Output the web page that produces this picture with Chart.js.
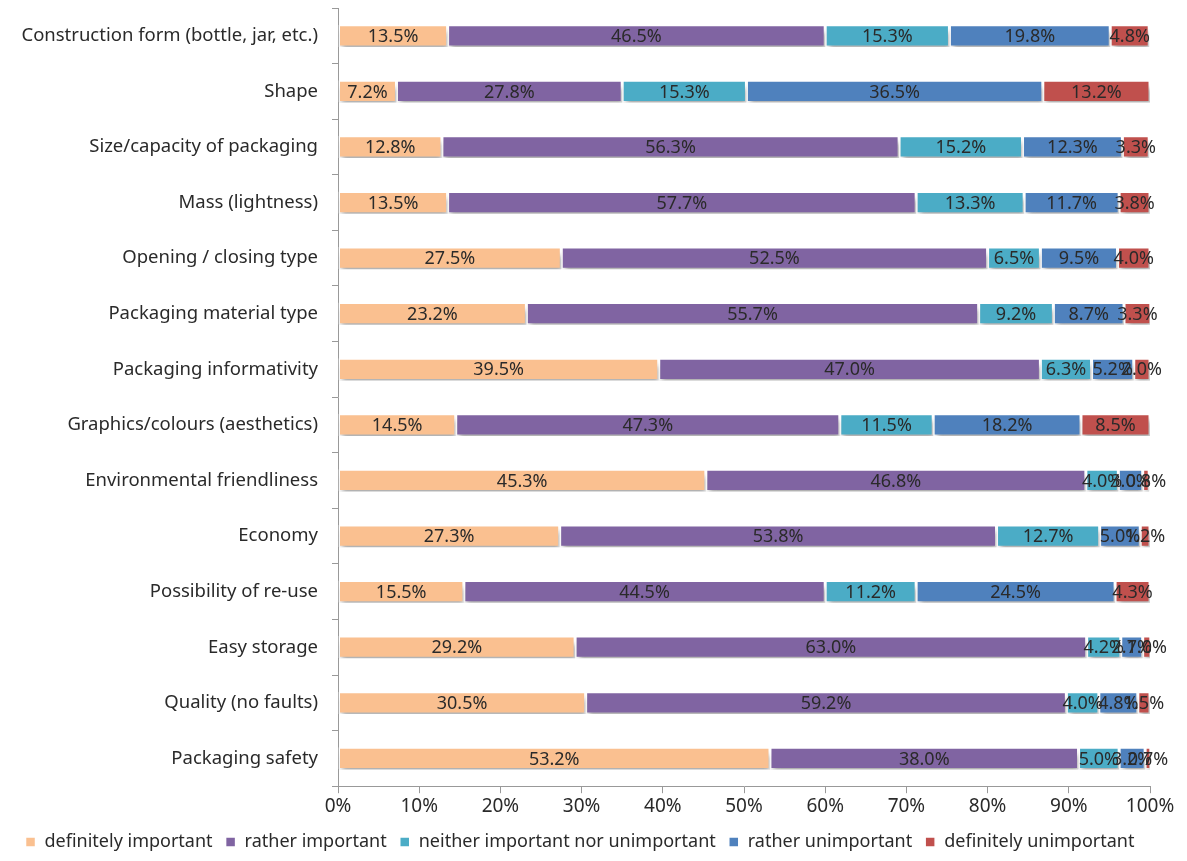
<!DOCTYPE html>
<html lang="en">
<head>
  <meta charset="UTF-8" />
  <title>Packaging attributes</title>
  <script src="https://cdn.jsdelivr.net/npm/chart.js"></script>
  <style>
    html, body { margin: 0; padding: 0; background: #fff; }
    #wrap { width: 1187px; height: 861px; position: relative; }
  </style>
</head>
<body>
  <div id="wrap"><canvas id="chart"></canvas></div>

  <script>
    const categories = [
      "Construction form (bottle, jar, etc.)",
      "Shape",
      "Size/capacity of packaging",
      "Mass (lightness)",
      "Opening / closing type",
      "Packaging material type",
      "Packaging informativity",
      "Graphics/colours (aesthetics)",
      "Environmental friendliness",
      "Economy",
      "Possibility of re-use",
      "Easy storage",
      "Quality (no faults)",
      "Packaging safety"
    ];

    const definitelyImportant   = [13.5, 7.2, 12.8, 13.5, 27.5, 23.2, 39.5, 14.5, 45.3, 27.3, 15.5, 29.2, 30.5, 53.2];
    const ratherImportant       = [46.5, 27.8, 56.3, 57.7, 52.5, 55.7, 47.0, 47.3, 46.8, 53.8, 44.5, 63.0, 59.2, 38.0];
    const neitherImportant      = [15.3, 15.3, 15.2, 13.3, 6.5, 9.2, 6.3, 11.5, 4.0, 12.7, 11.2, 4.2, 4.0, 5.0];
    const ratherUnimportant     = [19.8, 36.5, 12.3, 11.7, 9.5, 8.7, 5.2, 18.2, 3.0, 5.0, 24.5, 2.7, 4.8, 3.2];
    const definitelyUnimportant = [4.8, 13.2, 3.3, 3.8, 4.0, 3.3, 2.0, 8.5, 0.8, 1.2, 4.3, 1.0, 1.5, 0.7];

    const xTicks = [0, 10, 20, 30, 40, 50, 60, 70, 80, 90, 100];

    const FONT = "'Noto Sans', 'Open Sans', sans-serif";

    // draws the % value in the middle of each segment
    const segLabels = {
      id: "segLabels",
      afterDatasetsDraw(chart) {
        const ctx = chart.ctx;
        ctx.save();
        ctx.font = "18px " + FONT;
        ctx.fillStyle = "#2a2a2a";
        ctx.textAlign = "center";
        ctx.textBaseline = "middle";
        chart.data.datasets.forEach((ds, i) => {
          const meta = chart.getDatasetMeta(i);
          meta.data.forEach((bar, j) => {
            const x = (bar.x + bar.base) / 2;
            ctx.fillText(ds.data[j].toFixed(1) + "%", x, bar.y + 1);
          });
        });
        ctx.restore();
      }
    };

    // soft drop shadow under the bars
    const barShadow = {
      id: "barShadow",
      beforeDatasetsDraw(chart) {
        const ctx = chart.ctx;
        ctx.save();
        ctx.shadowColor = "rgba(0,0,0,0.3)";
        ctx.shadowBlur = 5;
        ctx.shadowOffsetX = 2;
        ctx.shadowOffsetY = 6;
      },
      afterDatasetsDraw(chart) {
        chart.ctx.restore();
      }
    };

    function ds(label, data, color) {
      return {
        label: label,
        data: data,
        backgroundColor: color,
        borderColor: "#ffffff",
        borderWidth: 1.5,
        borderSkipped: false,
        barPercentage: 0.8,
        categoryPercentage: 0.5
      };
    }

    new Chart(document.getElementById("chart"), {
      type: "bar",
      data: {
        labels: categories,
        datasets: [
          ds("definitely important", definitelyImportant, "#FAC090"),
          ds("rather important", ratherImportant, "#8064A2"),
          ds("neither important nor unimportant", neitherImportant, "#4BACC6"),
          ds("rather unimportant", ratherUnimportant, "#4F81BD"),
          ds("definitely unimportant", definitelyUnimportant, "#C0504D")
        ]
      },
      options: {
        indexAxis: "y",
        responsive: true,
        maintainAspectRatio: false,
        animation: false,
        layout: { padding: { left: 10, right: 37, top: 8, bottom: 0 } },
        scales: {
          x: {
            stacked: true,
            min: 0,
            max: 100,
            afterBuildTicks: (axis) => { axis.ticks = xTicks.map(v => ({ value: v })); },
            ticks: {
              callback: (v) => v + "%",
              color: "#2a2a2a",
              font: { family: FONT, size: 19 },
              padding: 2
            },
            grid: { drawOnChartArea: false, tickLength: 7, color: "#999" },
            border: { color: "#999" }
          },
          y: {
            stacked: true,
            afterFit: (scale) => {
              scale.width = 328;
              scale.paddingTop = 0;
              scale.paddingBottom = 0;
            },
            ticks: {
              color: "#2a2a2a",
              font: { family: FONT, size: 18.5 },
              padding: 14
            },
            grid: { drawOnChartArea: false, tickLength: 6, color: "#999" },
            border: { color: "#999" }
          }
        },
        plugins: {
          legend: {
            position: "bottom",
            labels: {
              boxWidth: 10,
              boxHeight: 10,
              padding: 13,
              color: "#2a2a2a",
              font: { family: FONT, size: 18 }
            }
          },
          tooltip: { enabled: false }
        }
      },
      plugins: [barShadow, segLabels]
    });
  </script>
</body>
</html>
